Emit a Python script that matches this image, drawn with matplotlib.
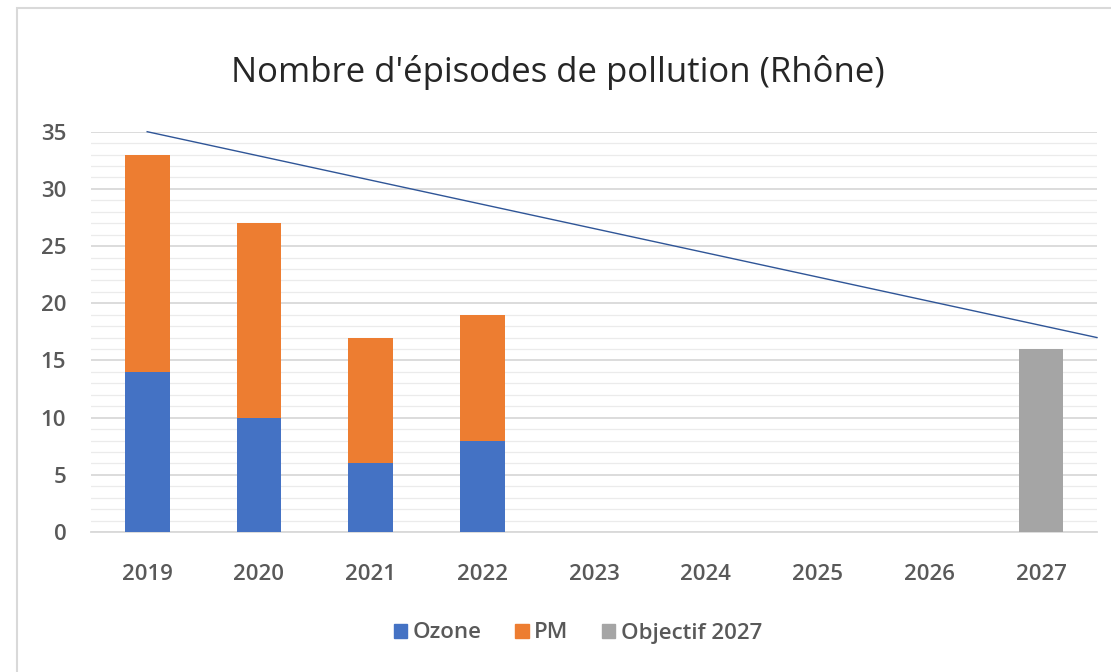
import matplotlib
matplotlib.use("Agg")
import matplotlib.pyplot as plt
from matplotlib.patches import Rectangle, Patch
import numpy as np

plt.rcParams['font.family'] = ['Open Sans', 'DejaVu Sans']

years = ['2019', '2020', '2021', '2022', '2023', '2024', '2025', '2026', '2027']
ozone = [14, 10, 6, 8, 0, 0, 0, 0, 0]
pm = [19, 17, 11, 11, 0, 0, 0, 0, 0]
objectif = [0, 0, 0, 0, 0, 0, 0, 0, 16]
trend_x = [0, 8.5]
trend_y = [35, 17]

title = "Nombre d'épisodes de pollution (Rhône)"
c_ozone = '#4472C4'
c_pm = '#ED7D31'
c_obj = '#A5A5A5'

fig = plt.figure(figsize=(11.11, 6.72), dpi=100)
fig.patch.set_facecolor('white')

# chart border
fig.patches.append(Rectangle((17/1111, -0.05), 1.2, 1 - 8/672 + 0.05,
                             transform=fig.transFigure, fill=False,
                             edgecolor='#D9D9D9', linewidth=1.5))

ax = fig.add_axes([91.3/1111, 1 - 532/672, (1097 - 91.3)/1111, (532 - 131.7)/672])
x = np.arange(len(years))
w = 0.4
ax.bar(x, ozone, w, color=c_ozone, label='Ozone', zorder=3)
ax.bar(x, pm, w, bottom=ozone, color=c_pm, label='PM', zorder=3)
ax.bar(x, objectif, w, color=c_obj, label='Objectif 2027', zorder=3)
ax.plot(trend_x, trend_y, color='#2F5597', linewidth=1.0, zorder=4, clip_on=False)

ax.set_xlim(-0.5, len(years) - 0.5)
ax.set_ylim(0, 35)
ax.set_yticks(np.arange(0, 36, 5))
ax.set_yticks(np.arange(0, 36, 1), minor=True)
ax.grid(axis='y', which='major', color='#D9D9D9', linewidth=1.3, zorder=0)
ax.grid(axis='y', which='minor', color='#EBEBEB', linewidth=0.9, zorder=0)
ax.set_axisbelow(True)
for s in ['top', 'right', 'left']:
    ax.spines[s].set_visible(False)
ax.spines['bottom'].set_color('#D9D9D9')
ax.spines['bottom'].set_linewidth(1.3)
ax.tick_params(axis='both', which='both', length=0, colors='#595959', labelsize=16)
ax.tick_params(axis='y', pad=18)
ax.tick_params(axis='x', pad=23)
ax.set_xticks(x)
ax.set_xticklabels(years)
for lab in ax.get_xticklabels() + ax.get_yticklabels():
    lab.set_fontweight('semibold')

fig.text(558/1111, 1 - 72/672, title, ha='center', va='center', fontsize=25, color='#262626')

handles = [Patch(color=c_ozone, label='Ozone'), Patch(color=c_pm, label='PM'),
           Patch(color=c_obj, label='Objectif 2027')]
leg = fig.legend(handles=handles, loc='center', bbox_to_anchor=(578/1111, 1 - 633/672),
                 ncol=3, frameon=False, prop={'size': 16, 'weight': 'semibold'},
                 handlelength=0.6, handleheight=0.6,
                 handletextpad=0.25, columnspacing=1.5, labelcolor='#595959')

fig.savefig('out.png', dpi=100)
